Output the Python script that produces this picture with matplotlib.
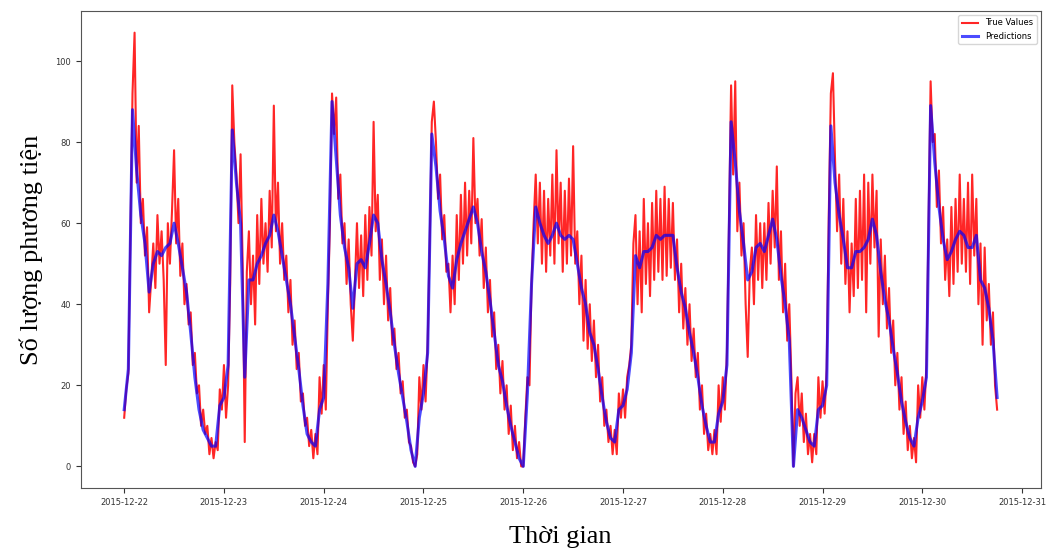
import pandas as pd
import matplotlib
matplotlib.use('Agg')
import matplotlib.pyplot as plt
import matplotlib.dates as mdates

# Du lieu doc tu hinh: du doan theo gio, gia tri thuc moi 30 phut
pred_values = [
    14, 24, 88, 73, 62, 55, 43, 50, 53, 52, 54, 55, 60, 55, 49, 43, 33, 22, 14, 9, 7, 5, 5, 15,   # 22/12
    17, 25, 83, 70, 60, 22, 46, 46, 50, 52, 55, 57, 62, 58, 52, 46, 40, 32, 24, 15, 8, 6, 5, 14,  # 23/12
    17, 45, 90, 76, 62, 54, 49, 39, 50, 51, 49, 55, 62, 60, 51, 45, 38, 30, 23, 17, 11, 4, 0, 12, # 24/12
    18, 28, 82, 74, 63, 56, 47, 44, 51, 55, 58, 61, 64, 60, 53, 48, 41, 33, 25, 21, 15, 10, 6, 2, # 25/12
    0, 18, 45, 64, 60, 57, 55, 57, 60, 57, 56, 57, 56, 50, 44, 40, 33, 30, 24, 17, 11, 7, 6, 14,  # 26/12
    15, 19, 28, 52, 49, 53, 53, 54, 57, 56, 57, 57, 57, 49, 43, 39, 33, 28, 22, 15, 10, 6, 6, 13, # 27/12
    16, 25, 85, 75, 63, 55, 46, 48, 54, 55, 53, 57, 61, 56, 47, 40, 31, 0, 14, 12, 9, 6, 5, 14,   # 28/12
    15, 20, 84, 70, 62, 56, 49, 49, 53, 53, 54, 56, 61, 57, 48, 41, 36, 29, 23, 16, 11, 7, 5, 12, # 29/12
    16, 22, 89, 75, 64, 56, 51, 53, 56, 58, 57, 54, 54, 57, 46, 44, 39, 31, 17,                   # 30/12
]

true_values = [
    12, 19, 23, 58, 92, 107, 70, 84, 60, 66, 52, 59, 38, 46, 55, 44, 62, 50, 58, 46, 25, 60, 50, 63,
    78, 55, 66, 47, 55, 40, 45, 35, 38, 25, 28, 18, 20, 10, 14, 8, 10, 3, 7, 2, 6, 4, 19, 14,
    25, 12, 20, 45, 94, 80, 72, 60, 77, 50, 6, 48, 58, 40, 52, 35, 62, 45, 66, 50, 60, 48, 68, 54,
    89, 58, 70, 50, 60, 46, 52, 38, 46, 30, 36, 24, 28, 16, 18, 10, 12, 5, 9, 2, 8, 3, 22, 13,
    25, 14, 40, 60, 92, 82, 91, 66, 72, 55, 60, 45, 56, 40, 31, 45, 60, 44, 57, 42, 62, 46, 64, 52,
    85, 58, 67, 46, 56, 40, 52, 36, 44, 30, 34, 24, 28, 18, 21, 12, 14, 6, 5, 1, 0, 3, 22, 14,
    25, 16, 30, 55, 85, 90, 80, 66, 72, 56, 62, 48, 50, 38, 52, 40, 62, 46, 67, 50, 70, 52, 68, 55,
    81, 60, 66, 52, 61, 44, 54, 38, 46, 32, 38, 24, 30, 18, 26, 14, 20, 8, 15, 4, 10, 2, 6, 0,
    0, 12, 22, 20, 45, 60, 72, 55, 70, 50, 68, 48, 66, 52, 72, 50, 78, 55, 70, 48, 68, 50, 71, 52,
    79, 50, 58, 40, 52, 31, 46, 29, 40, 26, 36, 22, 30, 16, 22, 10, 14, 6, 10, 3, 9, 3, 18, 12,
    19, 12, 22, 25, 30, 55, 62, 40, 58, 38, 66, 45, 60, 42, 65, 46, 68, 48, 66, 46, 69, 47, 66, 49,
    65, 46, 56, 38, 50, 34, 44, 30, 40, 26, 34, 22, 28, 14, 20, 8, 13, 4, 8, 3, 9, 3, 20, 11,
    22, 14, 28, 60, 94, 72, 95, 58, 70, 52, 60, 40, 27, 48, 54, 40, 62, 46, 60, 44, 60, 46, 65, 50,
    68, 54, 74, 46, 58, 38, 50, 31, 40, 22, 0, 18, 22, 10, 18, 6, 13, 3, 8, 1, 8, 3, 22, 12,
    21, 13, 24, 62, 92, 97, 76, 58, 72, 50, 66, 45, 58, 38, 55, 42, 66, 44, 68, 46, 72, 38, 70, 50,
    72, 54, 68, 32, 56, 40, 52, 34, 44, 28, 36, 20, 28, 14, 22, 8, 16, 4, 10, 2, 7, 1, 20, 12,
    22, 14, 25, 60, 95, 80, 82, 64, 73, 55, 64, 46, 56, 42, 64, 45, 66, 48, 72, 50, 66, 48, 70, 45,
    72, 52, 66, 40, 55, 30, 54, 36, 45, 30, 38, 20, 14,
]

pred_time = pd.date_range('2015-12-22 00:00', periods=len(pred_values), freq='60min')
true_time = pd.date_range('2015-12-22 00:00', periods=len(true_values), freq='30min')

fig = plt.figure(figsize=(10.46, 5.49), dpi=100)
ax = fig.add_axes([0.077, 0.111, 0.918, 0.869])

ax.plot(true_time, true_values, color='red', alpha=0.85, linewidth=1.5, label='True Values')
ax.plot(pred_time, pred_values, color='blue', alpha=0.7, linewidth=2.2, label='Predictions')

ax.xaxis.set_major_locator(mdates.DayLocator())
ax.xaxis.set_major_formatter(mdates.DateFormatter('%Y-%m-%d'))
ax.tick_params(labelsize=6, colors='#333333')
for s in ax.spines.values():
    s.set_color('#555555')

ax.set_xlabel('Thời gian', fontsize=19, family='Liberation Serif', labelpad=14)
ax.set_ylabel('Số lượng phương tiện', fontsize=19, family='Liberation Serif', labelpad=9)
ax.legend(loc='upper right', fontsize=6)

fig.savefig('out.png', dpi=100)
